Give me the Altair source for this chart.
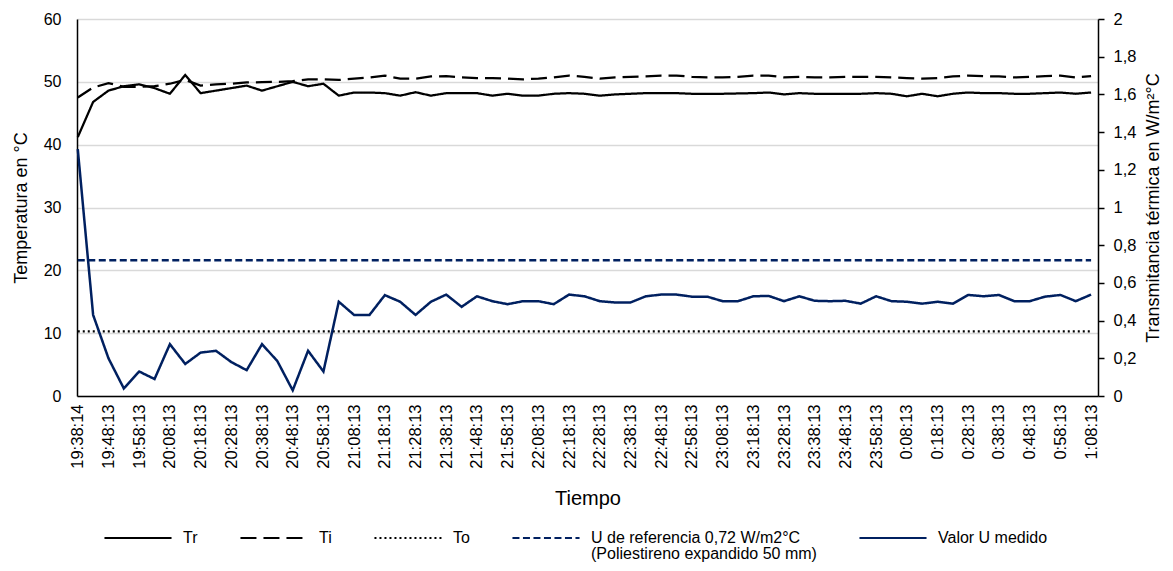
import json
import altair as alt
import pandas as pd

times = ["19:38:14", "19:43:13", "19:48:13", "19:53:13", "19:58:13", "20:03:13", "20:08:13", "20:13:13",
         "20:18:13", "20:23:13", "20:28:13", "20:33:13", "20:38:13", "20:43:13", "20:48:13", "20:53:13",
         "20:58:13", "21:03:13", "21:08:13", "21:13:13", "21:18:13", "21:23:13", "21:28:13", "21:33:13",
         "21:38:13", "21:43:13", "21:48:13", "21:53:13", "21:58:13", "22:03:13", "22:08:13", "22:13:13",
         "22:18:13", "22:23:13", "22:28:13", "22:33:13", "22:38:13", "22:43:13", "22:48:13", "22:53:13",
         "22:58:13", "23:03:13", "23:08:13", "23:13:13", "23:18:13", "23:23:13", "23:28:13", "23:33:13",
         "23:38:13", "23:43:13", "23:48:13", "23:53:13", "23:58:13", "0:03:13", "0:08:13", "0:13:13",
         "0:18:13", "0:23:13", "0:28:13", "0:33:13", "0:38:13", "0:43:13", "0:48:13", "0:53:13",
         "0:58:13", "1:03:13", "1:08:13"]

tr = [41.2, 46.8, 48.6, 49.3, 49.6, 49.0, 48.1, 51.1, 48.2, 48.6,
      49.0, 49.4, 48.6, 49.3, 50.0, 49.3, 49.7, 47.8, 48.3, 48.3,
      48.2, 47.8, 48.35, 47.8, 48.2, 48.2, 48.2, 47.8, 48.1, 47.8,
      47.8, 48.1, 48.2, 48.1, 47.8, 48.0, 48.1, 48.2, 48.2, 48.2,
      48.1, 48.1, 48.1, 48.15, 48.2, 48.3, 48.0, 48.2, 48.1, 48.1,
      48.1, 48.1, 48.2, 48.1, 47.7, 48.1, 47.7, 48.1, 48.3, 48.2,
      48.2, 48.1, 48.1, 48.2, 48.3, 48.1, 48.3]

ti = [47.5, 49.1, 49.8, 49.2, 49.2, 49.3, 49.7, 50.3, 49.4, 49.6,
      49.7, 49.9, 49.95, 50.0, 50.1, 50.4, 50.4, 50.3, 50.5, 50.7,
      51.0, 50.5, 50.5, 50.85, 50.9, 50.7, 50.6, 50.6, 50.5, 50.4,
      50.5, 50.7, 51.0, 50.8, 50.5, 50.7, 50.8, 50.85, 51.0, 51.0,
      50.8, 50.7, 50.7, 50.8, 51.0, 51.0, 50.7, 50.8, 50.7, 50.7,
      50.8, 50.8, 50.8, 50.7, 50.6, 50.5, 50.6, 50.85, 51.0, 50.9,
      50.85, 50.7, 50.8, 50.9, 51.0, 50.7, 50.9]

to = [10.3, 10.3, 10.3, 10.3, 10.3, 10.3, 10.3, 10.3, 10.3, 10.3,
      10.3, 10.3, 10.3, 10.3, 10.3, 10.3, 10.3, 10.3, 10.3, 10.3,
      10.3, 10.3, 10.3, 10.3, 10.3, 10.3, 10.3, 10.3, 10.3, 10.3,
      10.3, 10.3, 10.3, 10.3, 10.3, 10.3, 10.3, 10.3, 10.3, 10.3,
      10.3, 10.3, 10.3, 10.3, 10.3, 10.3, 10.3, 10.3, 10.3, 10.3,
      10.3, 10.3, 10.3, 10.3, 10.3, 10.3, 10.3, 10.3, 10.3, 10.3,
      10.3, 10.3, 10.3, 10.3, 10.3, 10.3, 10.3]

u_medido = [1.31, 0.43, 0.20, 0.04, 0.13, 0.09, 0.275, 0.17, 0.23, 0.24,
            0.18, 0.137, 0.275, 0.185, 0.03, 0.24, 0.13, 0.50, 0.43, 0.43,
            0.535, 0.50, 0.43, 0.50, 0.538, 0.473, 0.529, 0.503, 0.487, 0.503,
            0.503, 0.487, 0.538, 0.529, 0.503, 0.496, 0.496, 0.529, 0.538, 0.538,
            0.527, 0.527, 0.503, 0.503, 0.529, 0.531, 0.503, 0.529, 0.505, 0.503,
            0.505, 0.49, 0.529, 0.503, 0.50, 0.49, 0.50, 0.49, 0.536, 0.529,
            0.536, 0.503, 0.503, 0.527, 0.536, 0.503, 0.538]

u_ref = 0.72

series = ["Tr", "Ti", "To", "U de referencia 0,72 W/m2°C", "Valor U medido"]
ref_note = "(Poliestireno expandido 50 mm)"
colors = ["#000000", "#000000", "#000000", "#002060", "#002060"]
dashes = [[1, 0], [16, 7], [2, 3], [7, 3.5], [1, 0]]

FONT = "Liberation Sans"

rows_t = []
for i in range(len(times)):
    rows_t.append({"i": i, "serie": "Tr", "v": tr[i]})
    rows_t.append({"i": i, "serie": "Ti", "v": ti[i]})
    rows_t.append({"i": i, "serie": "To", "v": to[i]})
df_t = pd.DataFrame(rows_t)

rows_u = []
for i in range(len(times)):
    rows_u.append({"i": i, "serie": "Valor U medido", "v": u_medido[i]})
rows_u.append({"i": 0, "serie": series[3], "v": u_ref})
rows_u.append({"i": len(times) - 1, "serie": series[3], "v": u_ref})
df_u = pd.DataFrame(rows_u)

label_expr = json.dumps(times) + "[round(datum.value)]"

x_enc = alt.X(
    "i:Q",
    scale=alt.Scale(domain=[-0.05, 66.45], nice=False, zero=False),
    axis=alt.Axis(
        values=list(range(0, len(times), 2)),
        labelExpr=label_expr,
        labelAngle=270,
        labelAlign="right",
        labelBaseline="middle",
        labelFontSize=16.5,
        labelPadding=8,
        labelColor="#000000",
        ticks=False,
        grid=False,
        domainColor="#000000",
        domainWidth=1.5,
        title="Tiempo",
        titleFontSize=20,
        titleFontWeight="normal",
        titleColor="#000000",
        titlePadding=20,
        labelFlush=False,
        labelOverlap=False,
        labelBound=False,
    ),
)

ref_label = series[3]
legend = alt.Legend(
    title=None,
    orient="none",
    direction="horizontal",
    columns=5,
    legendX=26,
    legendY=484,
    symbolType="stroke",
    symbolSize=4500,
    symbolStrokeWidth=2,
    labelFontSize=16,
    labelColor="#000000",
    labelFont=FONT,
    labelLimit=400,
    labelOffset=10,
    columnPadding=38,
    labelBaseline="middle",
    labelExpr=f"datum.label == '{ref_label}' ? ['{ref_label}', '{ref_note}'] : [datum.label, '']",
)

color_enc = alt.Color("serie:N", scale=alt.Scale(domain=series, range=colors), legend=legend)
dash_enc = alt.StrokeDash("serie:N", scale=alt.Scale(domain=series, range=dashes), legend=legend)

temp = alt.Chart(df_t).mark_line(strokeWidth=2.25).encode(
    x=x_enc,
    y=alt.Y(
        "v:Q",
        scale=alt.Scale(domain=[0, 60], nice=False),
        axis=alt.Axis(
            values=[0, 10, 20, 30, 40, 50, 60],
            orient="left",
            title="Temperatura en °C",
            titleFontSize=18,
            titleFontWeight="normal",
            titleColor="#000000",
            titlePadding=13,
            labelFontSize=16,
            labelColor="#000000",
            labelPadding=16,
            ticks=False,
            grid=True,
            gridColor="#d9d9d9",
            gridWidth=1.3,
            domainColor="#000000",
            domainWidth=1.5,
        ),
    ),
    color=color_enc,
    strokeDash=dash_enc,
    detail="serie:N",
)

uline = alt.Chart(df_u).mark_line(strokeWidth=2.5).encode(
    x=x_enc,
    y=alt.Y(
        "v:Q",
        scale=alt.Scale(domain=[0, 2], nice=False),
        axis=alt.Axis(
            values=[0, 0.2, 0.4, 0.6, 0.8, 1, 1.2, 1.4, 1.6, 1.8, 2],
            orient="right",
            labelExpr="replace(format(datum.value, '~g'), '.', ',')",
            title="Transmitancia térmica en W/m²°C",
            titleFontSize=18,
            titleFontWeight="normal",
            titleColor="#000000",
            titleAngle=270,
            titleBaseline="top",
            titlePadding=9,
            labelFontSize=16.5,
            labelColor="#000000",
            labelPadding=9,
            ticks=True,
            tickSize=6,
            tickColor="#000000",
            tickWidth=1.5,
            grid=False,
            domainColor="#000000",
            domainWidth=1.5,
        ),
    ),
    color=color_enc,
    strokeDash=dash_enc,
    detail="serie:N",
)

chart = (
    alt.layer(temp, uline)
    .resolve_scale(y="independent")
    .properties(
        width=1021,
        height=377,
        autosize=alt.AutoSizeParams(type="none"),
        padding={"left": 69, "top": 11, "right": 67, "bottom": 167},
    )
    .configure(font=FONT, style={"guide-label": {"lineHeight": 16}})
    .configure_view(stroke=None)
)

chart.save("out.html", embed_options={"renderer": "svg", "actions": False})
